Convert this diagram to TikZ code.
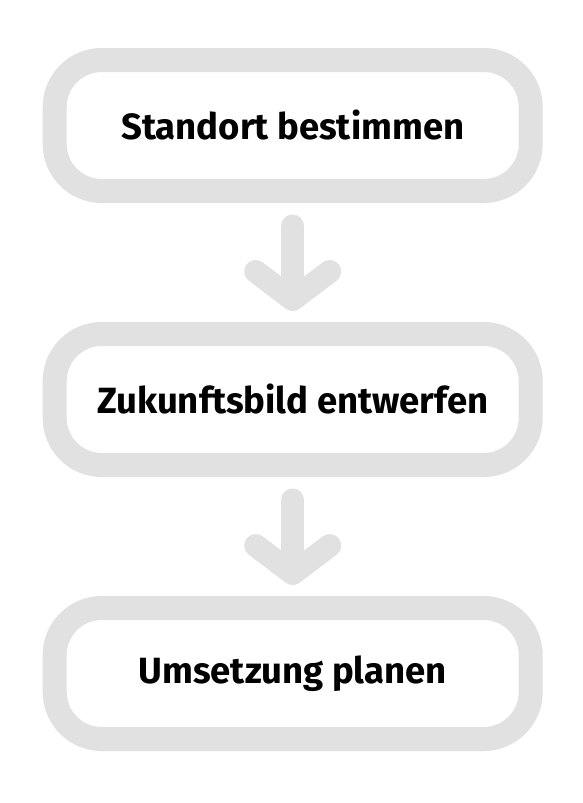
\documentclass[tikz,border=0pt]{standalone}
\usepackage{fontspec}
\setmainfont{Fira Sans}
\usetikzlibrary{arrows.meta,positioning}
\definecolor{framegray}{RGB}{225,225,225}
\tikzset{
	stage/.style = {draw = framegray, line width = 24pt, rounded corners = 47pt,
		minimum width = 476pt, minimum height = 131pt, inner sep = 0, outer sep = 0,
		font = \fontsize{36.5}{40}\selectfont\bfseries, text = black},
	flow/.style = {draw = framegray, line width = 23pt, line cap = round,
		-{Straight Barb[length = 28pt, width = 74pt, round]},
		shorten < = 35pt, shorten > = 23pt},
}

\begin{document}
\begin{tikzpicture}[x = 1pt, y = 1pt, node distance = 143pt]
\useasboundingbox (0,0) rectangle (582,-803);
\node[stage] (standort) at (292.7,-125.5) {Standort bestimmen};
\node[stage, below = of standort] (zukunft) {Zukunftsbild entwerfen};
\node[stage, below = of zukunft] (umsetzung) {Umsetzung planen};
% arrows between the steps
\draw[flow] (standort) -- (zukunft);
\draw[flow] (zukunft) -- (umsetzung);
\end{tikzpicture}
\end{document}
